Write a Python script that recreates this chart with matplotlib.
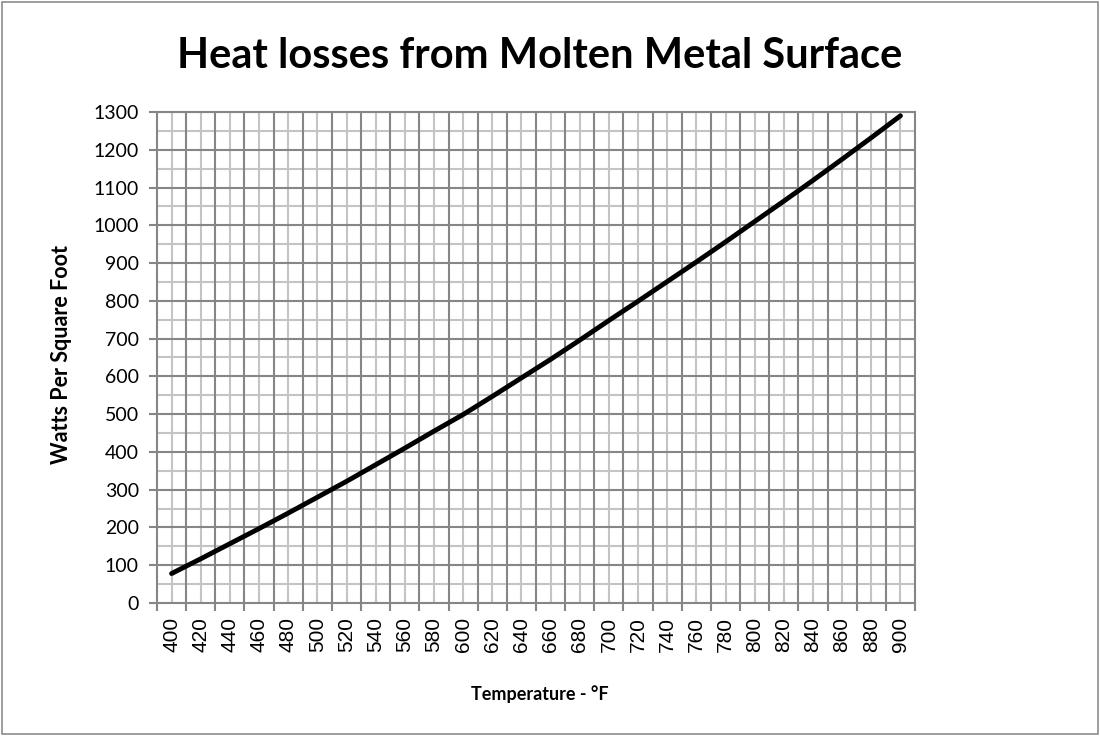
import matplotlib
matplotlib.use("Agg")
import matplotlib.pyplot as plt
from matplotlib.patches import Rectangle

temps = [400, 420, 440, 460, 480, 500, 520, 540, 560, 580, 600, 620, 640,
         660, 680, 700, 720, 740, 760, 780, 800, 820, 840, 860, 880, 900]
watts = [78, 117, 157, 197, 238, 280, 322, 366, 410, 455, 499, 547, 596,
         645, 696, 748, 799, 851, 903, 956, 1010, 1064, 1119, 1175, 1232, 1290]
y_ticks = list(range(0, 1301, 100))
title = "Heat losses from Molten Metal Surface"
xlabel = "Temperature - °F"
ylabel = "Watts Per Square Foot"

W, H = 1100, 736
fig = plt.figure(figsize=(W / 100, H / 100), dpi=100)
fig.patch.set_facecolor("white")
fig.patches.append(Rectangle((2 / W, 2 / H), 1 - 4 / W, 1 - 4 / H, transform=fig.transFigure,
                             fill=False, edgecolor="#8c8c8c", linewidth=1.2))

left, right, top, bottom = 157, 915, 112, 603
ax = fig.add_axes([left / W, 1 - bottom / H, (right - left) / W, (bottom - top) / H])

ax.set_xlim(temps[0] - 10, temps[-1] + 10)
ax.set_ylim(0, 1300)

dark = "#868686"
light = "#c4c4c4"

# minor (light) gridlines
for y in range(50, 1300, 100):
    ax.axhline(y, color=light, lw=1.5, zorder=1)
for x in temps:
    ax.axvline(x, color=light, lw=1.5, zorder=1)
# major (dark) gridlines
for y in y_ticks[1:]:
    ax.axhline(y, color=dark, lw=1.5, zorder=2)
for x in range(temps[0] + 10, temps[-1] + 10, 20):
    ax.axvline(x, color=dark, lw=1.5, zorder=2)

ax.plot(temps, watts, color="black", lw=3.5, zorder=5, solid_capstyle="round")

for s in ["left", "bottom", "right", "top"]:
    ax.spines[s].set_color(dark)
    ax.spines[s].set_linewidth(1.5)

ax.set_yticks(y_ticks)
ax.set_yticklabels([str(v) for v in y_ticks], fontfamily="Lato", fontsize=14)
ax.tick_params(axis="y", direction="out", length=6, width=1.5, color=dark, pad=7)

ax.set_xticks(temps)
ax.set_xticklabels([str(v) for v in temps], rotation=90, fontfamily="Liberation Sans", fontsize=15)
ax.tick_params(axis="x", which="major", direction="in", length=5, width=1.5, color=light, pad=10)
ax.set_xticks(list(range(temps[0] - 10, temps[-1] + 11, 20)), minor=True)
ax.tick_params(axis="x", which="minor", direction="out", length=6, width=1.5, color=dark)

fig.text(540 / W, 1 - 56 / H, title, ha="center", va="center", fontsize=30,
         fontweight="bold", fontfamily="Lato")
fig.text(540 / W, 1 - 694 / H, xlabel, ha="center", va="center", fontsize=13,
         fontweight="bold", fontfamily="Lato")
fig.text(62 / W, 1 - 355 / H, ylabel, ha="center", va="center", rotation=90,
         fontsize=15.5, fontweight="bold", fontfamily="Lato")

fig.savefig("out.png", dpi=100)
